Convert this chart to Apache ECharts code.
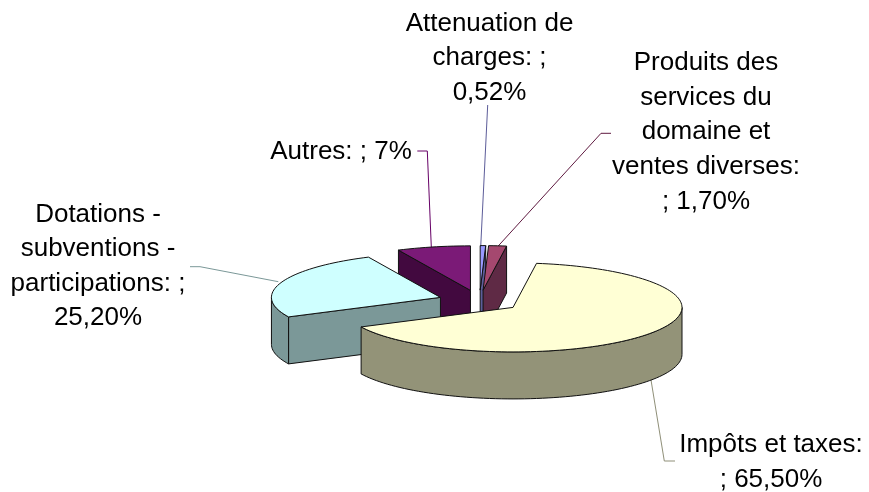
<!DOCTYPE html>
<html><head><meta charset="utf-8">
<style>html,body{margin:0;padding:0;background:#fff}#c{width:869px;height:492px}</style>
<script src="https://cdn.jsdelivr.net/npm/echarts@6/dist/echarts.min.js"></script>
</head><body><div id="c"></div>
<script>
// Data, clockwise from the top of the pie
const categories = ['Attenuation de charges', 'Produits des services du domaine et ventes diverses', 'Impôts et taxes', 'Dotations - subventions - participations', 'Autres'];
const values = [0.52, 1.70, 65.50, 25.20, 7];
const labelLines = [
  ['Attenuation de', 'charges: ;', '0,52%'],
  ['Produits des', 'services du', 'domaine et', 'ventes diverses:', '; 1,70%'],
  ['Impôts et taxes:', '; 65,50%'],
  ['Dotations -', 'subventions -', 'participations: ;', '25,20%'],
  ['Autres: ; 7%']
];
// Styling
const topColors = ['#9999FF', '#A5486F', '#FFFFD5', '#CFFFFF', '#7B1A77'];
const sideColors = ['#5C5C99', '#5F2A45', '#939378', '#7B9898', '#42093F'];
const leaderColors = ['#5C5C99', '#5F1A40', '#8f8f78', '#7B9898', '#660066'];
const drawOrder = [4, 0, 1, 3, 2];
const labelCenters = [[489.5, 23.5], [706, 63], [771, 445], [98, 214.5], [341, 152]];
const leaders = [
  [[487.7, 105], [480.7, 247]],
  [[611, 133.3], [601, 133.3], [497.3, 247]],
  [[675, 461], [664.3, 461], [651, 380]],
  [[190, 266.7], [200, 266.7], [278.3, 281.7]],
  [[417.3, 151], [427.3, 151], [431.3, 247]]
];
const cx = 479.5, cy = 301, rx = 169, ry = 44.5, depth = 47, explode = 0.245;
const fontSize = 26, lineH = 34.6;

const total = values.reduce((a, b) => a + b, 0);
let acc = 0;
const spans = values.map(v => { const s = acc; acc += v; return [s / total * 360, acc / total * 360]; });
const rad = d => d * Math.PI / 180;

function renderSlice(params, api) {
  const i = params.dataIndex;
  const a0 = api.value(1), a1 = api.value(2), mid = (a0 + a1) / 2;
  const ax = cx + explode * rx * Math.sin(rad(mid));
  const ay = cy - explode * ry * Math.cos(rad(mid));
  const P = (d, dz) => [ax + rx * Math.sin(rad(d)), ay - ry * Math.cos(rad(d)) + (dz || 0)];
  const arc = (from, to, dz) => {
    const n = Math.max(2, Math.ceil(Math.abs(to - from) / 2)), out = [];
    for (let k = 0; k <= n; k++) out.push(P(from + (to - from) * k / n, dz));
    return out;
  };
  const z = drawOrder.indexOf(i) * 10;
  const stroke = { stroke: '#111', lineWidth: 1, lineJoin: 'round' };
  const poly = (points, fill, dz) => ({ type: 'polygon', z2: z + dz, shape: { points }, style: Object.assign({ fill }, stroke) });
  const children = [];
  const A = [ax, ay], Ad = [ax, ay + depth];
  // cut faces turned toward the viewer
  if (Math.sin(rad(a0)) < 0) children.push(poly([P(a0), A, Ad, P(a0, depth)], sideColors[i], 1));
  if (Math.sin(rad(a1)) > 0) children.push(poly([P(a1), A, Ad, P(a1, depth)], sideColors[i], 1));
  // outer wall: front half of the ellipse only
  const wFrom = Math.max(a0, 90), wTo = Math.min(a1, 270);
  if (wTo > wFrom) children.push(poly(arc(wFrom, wTo, 0).concat(arc(wTo, wFrom, depth)), sideColors[i], 2));
  children.push(poly([A].concat(arc(a0, a1, 0)), topColors[i], 3));
  return { type: 'group', children };
}

const graphics = [];
leaders.forEach((pts, i) => graphics.push({ type: 'polyline', z: 5, shape: { points: pts }, style: { stroke: leaderColors[i], lineWidth: 1, fill: null } }));
labelLines.forEach((lines, i) => lines.forEach((t, k) => graphics.push({
  type: 'text', z: 6, x: labelCenters[i][0], y: labelCenters[i][1] + k * lineH,
  style: { text: t, fill: '#000', font: fontSize + 'px "Liberation Sans", Arial, sans-serif', align: 'center', verticalAlign: 'middle' }
})));

const chart = echarts.init(document.getElementById('c'), null, { renderer: 'canvas' });
chart.setOption({
  animation: false,
  backgroundColor: '#fff',
  graphic: graphics,
  series: [{
    type: 'custom', coordinateSystem: 'none', z: 10, silent: true,
    renderItem: renderSlice,
    data: categories.map((c, i) => ({ name: c, value: [values[i], spans[i][0], spans[i][1]] }))
  }]
});
</script></body></html>
